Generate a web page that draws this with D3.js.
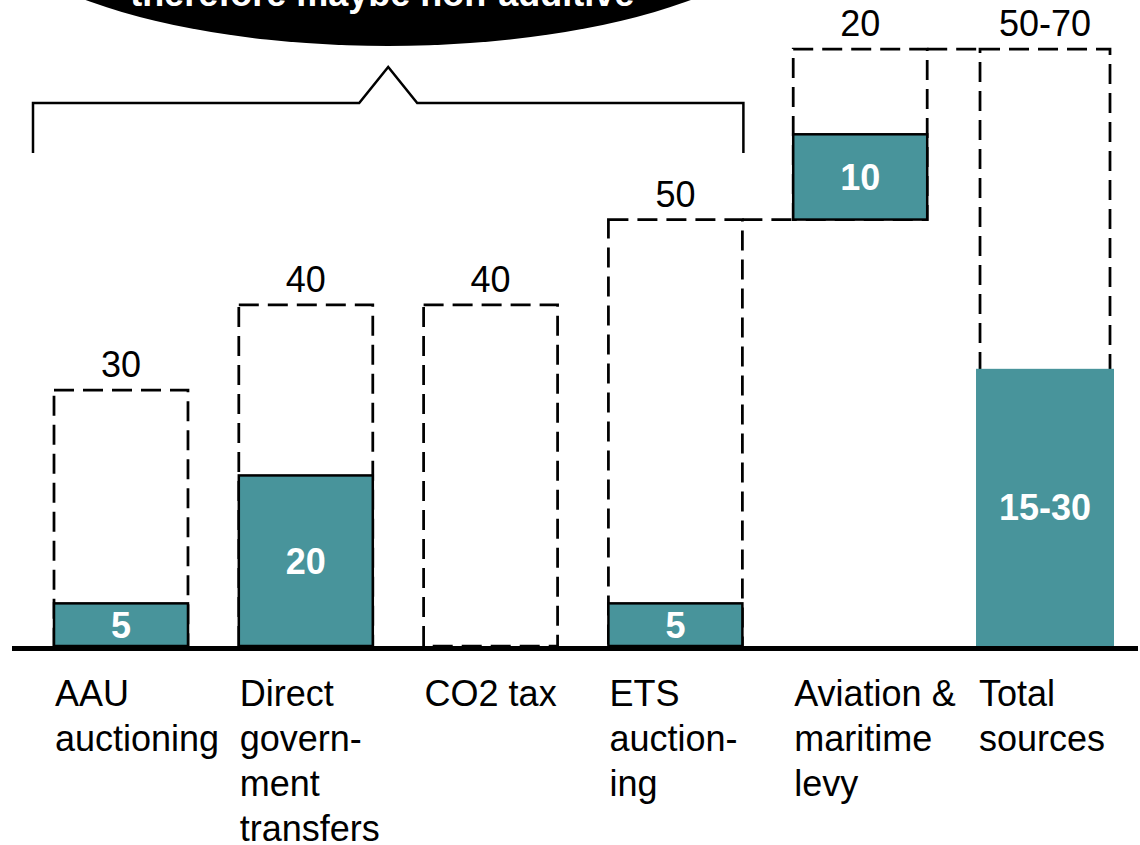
<!DOCTYPE html>
<html>
<head>
    <title>Sources</title>
    <script src="https://d3js.org/d3.v7.min.js"></script>
    <style>
        body { margin: 0; background: #fff; }
        text { font-family: "Liberation Sans", Arial, sans-serif; }
    </style>
</head>
<body>
    <div id="chart"></div>

    <script>
        // Data
        const categories = ["AAU", "Direct", "CO2", "ETS", "Aviation", "Total"];
        const labelLines = [
            ["AAU", "auctioning"],
            ["Direct", "govern-", "ment", "transfers"],
            ["CO2 tax"],
            ["ETS", "auction-", "ing"],
            ["Aviation &", "maritime", "levy"],
            ["Total", "sources"]
        ];
        const baseValues = [0, 0, 0, 0, 50, 0];        // where each bar starts
        const potentialValues = [30, 40, 40, 50, 20, 70]; // dashed box height
        const potentialLabels = ["30", "40", "40", "50", "20", "50-70"];
        const realisticValues = [5, 20, 0, 5, 10, 32.5]; // solid bar height
        const realisticLabels = ["5", "20", "", "5", "10", "15-30"];
        const connectors = [
            { from: "ETS", to: "Aviation", value: 50 },
            { from: "Aviation", to: "Total", value: 70 }
        ];
        const calloutText = "therefore maybe non-additive";

        const width = 1140;
        const height = 845;
        const teal = "#48949b";

        const svg = d3.select("#chart")
            .append("svg")
            .attr("width", width)
            .attr("height", height);

        const x = d3.scaleBand()
            .domain(categories)
            .range([54, 1112])
            .paddingInner(0.275)
            .paddingOuter(0);

        const y = d3.scaleLinear()
            .domain([0, 70])
            .range([646, 49]);

        const bw = x.bandwidth();
        const idx = d3.range(categories.length);

        // dashed "potential" boxes
        svg.append("g")
            .selectAll("rect")
            .data(idx)
            .join("rect")
            .attr("x", i => x(categories[i]) + (categories[i] === "Total" ? 2 : 0))
            .attr("width", i => bw - (categories[i] === "Total" ? 4 : 0))
            .attr("y", i => y(baseValues[i] + potentialValues[i]))
            .attr("height", i => y(baseValues[i]) - y(baseValues[i] + potentialValues[i]))
            .attr("fill", "none")
            .attr("stroke", "#000")
            .attr("stroke-width", 2.75)
            .attr("stroke-dasharray", "20,9");

        // connector lines between waterfall steps
        svg.append("g")
            .selectAll("line")
            .data(connectors)
            .join("line")
            .attr("x1", d => x(d.from) + bw)
            .attr("x2", d => x(d.to))
            .attr("y1", d => y(d.value))
            .attr("y2", d => y(d.value))
            .attr("stroke", "#000")
            .attr("stroke-width", 2.75)
            .attr("stroke-dasharray", "20,9");

        // solid "realistic" bars
        const solid = idx.filter(i => realisticValues[i] > 0);
        svg.append("g")
            .selectAll("rect")
            .data(solid)
            .join("rect")
            .attr("x", i => x(categories[i]) - (categories[i] === "Total" ? 2 : 0))
            .attr("width", i => bw + (categories[i] === "Total" ? 4 : 0))
            .attr("y", i => y(baseValues[i] + realisticValues[i]))
            .attr("height", i => y(baseValues[i]) - y(baseValues[i] + realisticValues[i]))
            .attr("fill", teal)
            .attr("stroke", i => categories[i] === "Total" ? "none" : "#000")
            .attr("stroke-width", 2.5);

        // values inside solid bars
        svg.append("g")
            .selectAll("text")
            .data(solid)
            .join("text")
            .attr("x", i => x(categories[i]) + bw / 2)
            .attr("y", i => (y(baseValues[i]) + y(baseValues[i] + realisticValues[i])) / 2)
            .attr("dy", "0.36em")
            .attr("text-anchor", "middle")
            .attr("fill", "#fff")
            .attr("font-weight", "bold")
            .attr("font-size", 36)
            .text(i => realisticLabels[i]);

        // values above dashed boxes
        svg.append("g")
            .selectAll("text")
            .data(idx)
            .join("text")
            .attr("x", i => x(categories[i]) + bw / 2)
            .attr("y", i => y(baseValues[i] + potentialValues[i]) - 13)
            .attr("text-anchor", "middle")
            .attr("fill", "#000")
            .attr("font-size", 36)
            .text(i => potentialLabels[i]);

        // baseline
        svg.append("line")
            .attr("x1", 12).attr("x2", 1138)
            .attr("y1", y(0) + 2.5).attr("y2", y(0) + 2.5)
            .attr("stroke", "#000")
            .attr("stroke-width", 5);

        // category labels
        const lab = svg.append("g")
            .selectAll("text")
            .data(idx)
            .join("text")
            .attr("x", i => x(categories[i]) + 1)
            .attr("y", 706)
            .attr("font-size", 36)
            .attr("fill", "#000");
        lab.selectAll("tspan")
            .data(i => labelLines[i].map(t => ({ t, x: x(categories[i]) + 1 })))
            .join("tspan")
            .attr("x", d => d.x)
            .attr("dy", (d, j) => j === 0 ? 0 : 45)
            .text(d => d.t);

        // bracket over the first four sources
        const bl = x("AAU") - 21;
        const br = x("ETS") + bw + 1;
        const bm = (bl + br) / 2;
        svg.append("path")
            .attr("d", `M${bl},153 V103 H${bm - 29} L${bm},67 L${bm + 29},103 H${br} V153`)
            .attr("fill", "none")
            .attr("stroke", "#000")
            .attr("stroke-width", 2.5);

        // callout ellipse, cut by the top edge
        svg.append("ellipse")
            .attr("cx", bm)
            .attr("cy", -104)
            .attr("rx", 420)
            .attr("ry", 150)
            .attr("fill", "#000");

        svg.append("text")
            .attr("x", bm - 6)
            .attr("y", 6)
            .attr("text-anchor", "middle")
            .attr("fill", "#fff")
            .attr("font-weight", "bold")
            .attr("font-size", 36)
            .text(calloutText);
    </script>
</body>
</html>
